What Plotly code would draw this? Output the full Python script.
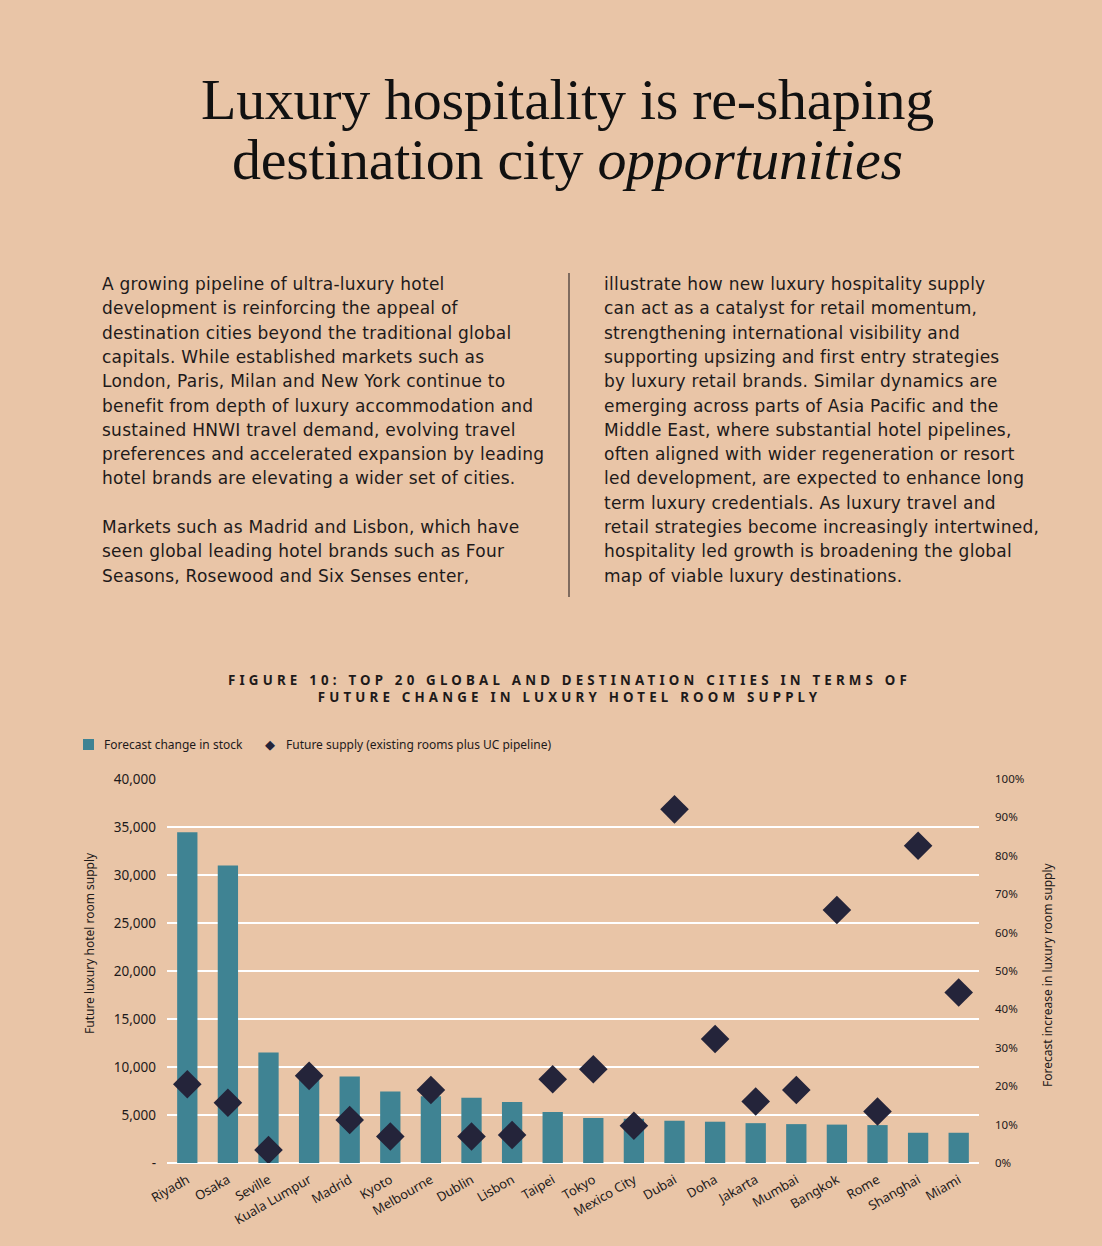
import plotly.graph_objects as go

# chart data
cities = ["Riyadh", "Osaka", "Seville", "Kuala Lumpur", "Madrid", "Kyoto", "Melbourne",
          "Dublin", "Lisbon", "Taipei", "Tokyo", "Mexico City", "Dubai", "Doha",
          "Jakarta", "Mumbai", "Bangkok", "Rome", "Shanghai", "Miami"]
room_supply = [34450, 31000, 11500, 9200, 9000, 7450, 6950, 6800, 6350, 5300,
               4700, 4600, 4400, 4300, 4150, 4050, 4000, 3950, 3150, 3150]
pct_increase = [0.205, 0.157, 0.034, 0.227, 0.112, 0.069, 0.190, 0.069, 0.073, 0.218,
                0.244, 0.097, 0.921, 0.323, 0.160, 0.190, 0.659, 0.134, 0.826, 0.444]

left_ticks = [0, 5000, 10000, 15000, 20000, 25000, 30000, 35000, 40000]
left_labels = ["-", "5,000", "10,000", "15,000", "20,000", "25,000", "30,000", "35,000", "40,000"]

BG = "#E9C5A7"
TEAL = "#3F8393"
NAVY = "#24243A"
INK = "#1E1A1A"
BODY_FONT = "DejaVu Sans"
W, H = 1102, 1246

col_left = [
    "A growing pipeline of ultra-luxury hotel",
    "development is reinforcing the appeal of",
    "destination cities beyond the traditional global",
    "capitals. While established markets such as",
    "London, Paris, Milan and New York continue to",
    "benefit from depth of luxury accommodation and",
    "sustained HNWI travel demand, evolving travel",
    "preferences and accelerated expansion by leading",
    "hotel brands are elevating a wider set of cities.",
    None,
    "Markets such as Madrid and Lisbon, which have",
    "seen global leading hotel brands such as Four",
    "Seasons, Rosewood and Six Senses enter,",
]
col_right = [
    "illustrate how new luxury hospitality supply",
    "can act as a catalyst for retail momentum,",
    "strengthening international visibility and",
    "supporting upsizing and first entry strategies",
    "by luxury retail brands. Similar dynamics are",
    "emerging across parts of Asia Pacific and the",
    "Middle East, where substantial hotel pipelines,",
    "often aligned with wider regeneration or resort",
    "led development, are expected to enhance long",
    "term luxury credentials. As luxury travel and",
    "retail strategies become increasingly intertwined,",
    "hospitality led growth is broadening the global",
    "map of viable luxury destinations.",
]


def px_x(x):
    return x / W


def px_y(y):
    return 1 - y / H


fig = go.Figure()
fig.add_trace(go.Bar(
    x=cities, y=room_supply, name="Forecast change in stock",
    marker=dict(color=TEAL, line=dict(width=0)), width=0.5, yaxis="y",
    showlegend=False,
))
fig.add_trace(go.Scatter(
    x=cities, y=pct_increase, name="Future supply (existing rooms plus UC pipeline)",
    mode="markers", marker=dict(symbol="diamond", size=22, color=NAVY), yaxis="y2",
    showlegend=False,
))

annotations = []
# headline
for txt, yy in [("Luxury hospitality is re-shaping", 100),
                ("destination city <i>opportunities</i>", 160)]:
    annotations.append(dict(
        x=0.515, y=px_y(yy), xref="paper", yref="paper", showarrow=False,
        text=f"<span style='letter-spacing:-0.3px'>{txt}</span>",
        font=dict(family="Liberation Serif", size=58, color="#111111"),
        xanchor="center", yanchor="middle",
    ))

# body columns, one annotation per line
for i, line in enumerate(col_left):
    if line:
        annotations.append(dict(
            x=px_x(100), y=px_y(284 + i * 24.3), xref="paper", yref="paper",
            showarrow=False, text=f"<span style='letter-spacing:0.25px'>{line}</span>",
            xanchor="left", yanchor="middle",
            font=dict(family=BODY_FONT, size=17, color=INK),
        ))
for i, line in enumerate(col_right):
    annotations.append(dict(
        x=px_x(602), y=px_y(284 + i * 24.3), xref="paper", yref="paper",
        showarrow=False, text=f"<span style='letter-spacing:0.25px'>{line}</span>",
        xanchor="left", yanchor="middle",
        font=dict(family=BODY_FONT, size=17, color=INK),
    ))

# figure caption
annotations.append(dict(
    x=0.517, y=px_y(688), xref="paper", yref="paper", showarrow=False,
    text=("<span style='letter-spacing:4.2px'><b>FIGURE 10: TOP 20 GLOBAL AND DESTINATION "
          "CITIES IN TERMS OF<br>FUTURE CHANGE IN LUXURY HOTEL ROOM SUPPLY</b></span>"),
    xanchor="center", yanchor="middle", align="center",
    font=dict(family="Noto Sans", size=13.3, color=INK),
))

# legend, drawn by hand
annotations.append(dict(
    x=px_x(102), y=px_y(744), xref="paper", yref="paper", showarrow=False,
    text="Forecast change in stock", xanchor="left", yanchor="middle",
    font=dict(family="Noto Sans", size=12, color=INK),
))
annotations.append(dict(
    x=px_x(270), y=px_y(744), xref="paper", yref="paper", showarrow=False,
    text="\u25C6", xanchor="center", yanchor="middle",
    font=dict(family="DejaVu Sans", size=13, color=NAVY),
))
annotations.append(dict(
    x=px_x(284), y=px_y(744), xref="paper", yref="paper", showarrow=False,
    text="Future supply (existing rooms plus UC pipeline)", xanchor="left", yanchor="middle",
    font=dict(family="Noto Sans", size=12, color=INK),
))

# axis titles
annotations.append(dict(
    x=px_x(89), y=px_y(943), xref="paper", yref="paper", showarrow=False,
    text="Future luxury hotel room supply", textangle=-90,
    xanchor="center", yanchor="middle", font=dict(family="Noto Sans", size=12, color=INK),
))
annotations.append(dict(
    x=px_x(1047), y=px_y(975), xref="paper", yref="paper", showarrow=False,
    text="Forecast increase in luxury room supply", textangle=-90,
    xanchor="center", yanchor="middle", font=dict(family="Noto Sans", size=12, color=INK),
))

shapes = [
    dict(type="line", xref="paper", yref="paper",
         x0=px_x(569), x1=px_x(569), y0=px_y(273), y1=px_y(597),
         line=dict(color="#3A3030", width=1.2)),
    dict(type="rect", xref="paper", yref="paper",
         x0=px_x(83), x1=px_x(94), y0=px_y(750), y1=px_y(739),
         fillcolor=TEAL, line=dict(width=0)),
]

fig.update_layout(
    width=W, height=H,
    margin=dict(l=0, r=0, t=0, b=0),
    paper_bgcolor=BG, plot_bgcolor="rgba(0,0,0,0)",
    font=dict(family="Noto Sans", size=12, color=INK),
    showlegend=False,
    xaxis=dict(
        domain=[px_x(167), px_x(979)], range=[-0.5, 19.5], tickangle=-30,
        showgrid=False, showline=False, zeroline=False, automargin=False,
        tickfont=dict(size=13, color=INK), ticks="", ticklabelstandoff=6,
    ),
    yaxis=dict(
        domain=[px_y(1163), px_y(779)], range=[0, 40000],
        tickvals=left_ticks, ticktext=left_labels, automargin=False,
        showgrid=True, gridcolor="#FFFFFF", gridwidth=2,
        zeroline=True, zerolinecolor="#FFFFFF", zerolinewidth=2,
        showline=False, tickfont=dict(size=13.5, color=INK), ticklabelstandoff=10,
    ),
    yaxis2=dict(
        overlaying="y", side="right", range=[0, 1], dtick=0.1, tickformat=".0%",
        showgrid=False, zeroline=False, showline=False, automargin=False,
        tickfont=dict(size=11.5, color=INK), ticklabelstandoff=15,
    ),
    annotations=annotations,
    shapes=shapes,
)

fig.write_html(
    "out.html",
    config={"displayModeBar": False},
    post_script="document.body.style.margin='0';document.body.style.background='%s';" % BG,
)
